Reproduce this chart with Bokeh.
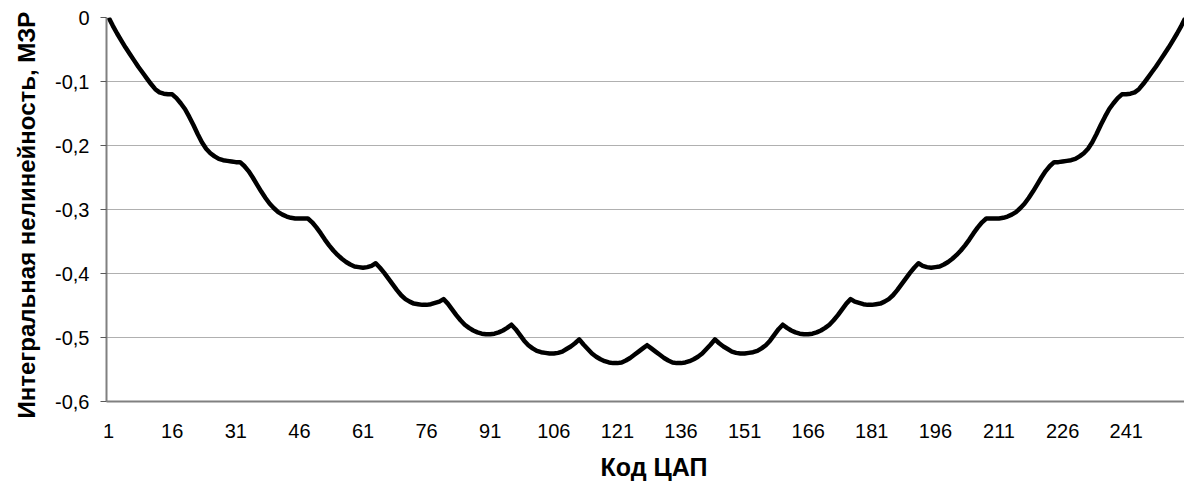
from bokeh.plotting import figure
from bokeh.models import FixedTicker, Range1d, Title
from bokeh.embed import file_html
from bokeh.resources import INLINE

# ---- data -------------------------------------------------------------
codes = list(range(1, 257))

inl = [
    # 1..16
    0.000, -0.013, -0.025, -0.036, -0.047, -0.057, -0.067, -0.077,
    -0.086, -0.095, -0.104, -0.112, -0.117, -0.119, -0.120, -0.120,
    # 17..32
    -0.126, -0.134, -0.143, -0.155, -0.168, -0.182, -0.195, -0.205,
    -0.212, -0.217, -0.221, -0.223, -0.224, -0.225, -0.226, -0.226,
    # 33..48
    -0.232, -0.240, -0.250, -0.261, -0.272, -0.282, -0.291, -0.298,
    -0.304, -0.308, -0.311, -0.313, -0.314, -0.314, -0.314, -0.314,
    # 49..64
    -0.320, -0.328, -0.337, -0.347, -0.356, -0.364, -0.371, -0.377,
    -0.382, -0.386, -0.389, -0.390, -0.391, -0.390, -0.388, -0.384,
    # 65..80
    -0.391, -0.399, -0.408, -0.417, -0.426, -0.434, -0.440, -0.444,
    -0.447, -0.448, -0.449, -0.449, -0.448, -0.446, -0.444, -0.440,
    # 81..96
    -0.447, -0.456, -0.465, -0.473, -0.480, -0.485, -0.489, -0.492,
    -0.494, -0.495, -0.495, -0.494, -0.492, -0.489, -0.485, -0.480,
    # 97..112
    -0.487, -0.496, -0.505, -0.512, -0.517, -0.521, -0.523, -0.524,
    -0.525, -0.525, -0.524, -0.522, -0.518, -0.514, -0.509, -0.503,
    # 113..128
    -0.511, -0.518, -0.525, -0.530, -0.534, -0.537, -0.539, -0.540,
    -0.540, -0.539, -0.536, -0.532, -0.527, -0.522, -0.517, -0.512,
    # 129..144
    -0.517, -0.522, -0.527, -0.532, -0.536, -0.539, -0.540, -0.540,
    -0.539, -0.537, -0.534, -0.530, -0.525, -0.518, -0.511, -0.503,
    # 145..160
    -0.509, -0.514, -0.518, -0.522, -0.524, -0.525, -0.525, -0.524,
    -0.523, -0.521, -0.517, -0.512, -0.505, -0.496, -0.487, -0.480,
    # 161..176
    -0.485, -0.489, -0.492, -0.494, -0.495, -0.495, -0.494, -0.492,
    -0.489, -0.485, -0.480, -0.473, -0.465, -0.456, -0.447, -0.440,
    # 177..192
    -0.444, -0.446, -0.448, -0.449, -0.449, -0.448, -0.447, -0.444,
    -0.440, -0.434, -0.426, -0.417, -0.408, -0.399, -0.391, -0.384,
    # 193..208
    -0.388, -0.390, -0.391, -0.390, -0.389, -0.386, -0.382, -0.377,
    -0.371, -0.364, -0.356, -0.347, -0.337, -0.328, -0.320, -0.314,
    # 209..224
    -0.314, -0.314, -0.314, -0.313, -0.311, -0.308, -0.304, -0.298,
    -0.291, -0.282, -0.272, -0.261, -0.250, -0.240, -0.232, -0.226,
    # 225..240
    -0.226, -0.225, -0.224, -0.223, -0.221, -0.217, -0.212, -0.205,
    -0.195, -0.182, -0.168, -0.155, -0.143, -0.134, -0.126, -0.120,
    # 241..256
    -0.120, -0.119, -0.117, -0.112, -0.104, -0.095, -0.086, -0.077,
    -0.067, -0.057, -0.047, -0.036, -0.025, -0.013, 0.000, 0.012,
]

x_ticks = [1, 16, 31, 46, 61, 76, 91, 106, 121, 136, 151, 166, 181, 196, 211, 226, 241]
y_ticks = [-0.6, -0.5, -0.4, -0.3, -0.2, -0.1, 0.0]
y_tick_labels = ["-0,6", "-0,5", "-0,4", "-0,3", "-0,2", "-0,1", "0"]

x_title = "Код ЦАП"
y_title = "Интегральная нелинейность, МЗР"

# ---- figure -----------------------------------------------------------
p = figure(width=1184, height=491, output_backend="svg", toolbar_location=None,
           x_range=Range1d(0.5, 254.75), y_range=Range1d(-0.6, 0.0),
           min_border_left=106, min_border_right=0, min_border_top=17,
           min_border_bottom=90)
p.outline_line_color = None
p.background_fill_color = "white"
p.border_fill_color = "white"

p.line(codes, inl, line_color="#000000", line_width=4.5, line_join="round")

# grid
p.xgrid.visible = False
p.ygrid.grid_line_color = "#b0b0b0"
p.ygrid.grid_line_width = 1.2
p.ygrid.ticker = FixedTicker(ticks=y_ticks)

FONT = "Liberation Sans"

# x axis
xa = p.xaxis[0]
xa.ticker = FixedTicker(ticks=x_ticks, minor_ticks=[])
xa.axis_line_color = "#808080"
xa.axis_line_width = 2
xa.major_tick_line_color = None
xa.minor_tick_line_color = None
xa.major_label_text_font = FONT
xa.major_label_text_font_size = "20px"
xa.major_label_text_color = "#000000"
xa.major_label_standoff = 16

# y axis
ya = p.yaxis[0]
ya.ticker = FixedTicker(ticks=y_ticks, minor_ticks=[])
ya.major_label_overrides = {t: s for t, s in zip(y_ticks, y_tick_labels)}
ya.axis_line_color = "#808080"
ya.axis_line_width = 2
ya.major_tick_in = 0
ya.major_tick_out = 6
ya.major_tick_line_color = "#595959"
ya.minor_tick_line_color = None
ya.major_label_text_font = FONT
ya.major_label_text_font_size = "20px"
ya.major_label_text_color = "#000000"
ya.major_label_standoff = 11

# axis titles as side titles (allow precise offsets)
p.add_layout(Title(text=x_title, align="left", offset=494, text_font=FONT,
                   text_font_size="25px", text_font_style="bold",
                   text_color="#000000", standoff=20,
                   vertical_align="bottom"), "below")
p.add_layout(Title(text=y_title, align="left", offset=-17, text_font=FONT,
                   text_font_size="24px", text_font_style="bold",
                   text_color="#000000", standoff=22,
                   vertical_align="top"), "left")

open("out.html", "w").write(file_html(p, INLINE))
